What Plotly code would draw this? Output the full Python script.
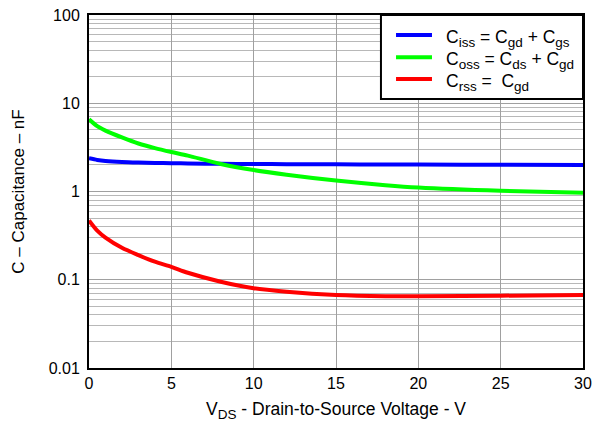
import plotly.graph_objects as go

vds = [0, 0.5, 1, 2, 3, 4, 5, 6, 8, 10, 12, 15, 18, 20, 25, 30]
ciss = [2.38, 2.28, 2.22, 2.16, 2.13, 2.11, 2.09, 2.08, 2.06, 2.05, 2.04, 2.03, 2.02, 2.02, 2.01, 2.0]
coss = [6.6, 5.5, 4.9, 4.1, 3.5, 3.1, 2.8, 2.55, 2.05, 1.75, 1.55, 1.33, 1.18, 1.11, 1.02, 0.97]
crss = [0.47, 0.36, 0.30, 0.23, 0.19, 0.16, 0.14, 0.12, 0.095, 0.08, 0.073, 0.067, 0.065, 0.065, 0.066, 0.067]

SUB = '<sub><span style="font-size:13.5px">{}</span></sub>'
names = ["C" + SUB.format("iss") + " = C" + SUB.format("gd") + " + C" + SUB.format("gs"),
         "C" + SUB.format("oss") + " = C" + SUB.format("ds") + " + C" + SUB.format("gd"),
         "C" + SUB.format("rss") + " =  C" + SUB.format("gd")]
colors = ["#0000ff", "#00ff00", "#ff0000"]

y_ticks = [0.01, 0.1, 1, 10, 100]
y_ticktext = ["0.01", "0.1", "1", "10", "100"]
x_ticks = [0, 5, 10, 15, 20, 25, 30]

minor_vals = [m * 10.0 ** e for e in range(-2, 2) for m in range(2, 10)]

fig = go.Figure()
for ys, nm, c in zip([ciss, coss, crss], names, colors):
    fig.add_trace(go.Scatter(x=vds, y=ys, mode="lines", name=nm, showlegend=False,
                             line=dict(color=c, width=4, shape="spline", smoothing=0.8)))

# manual legend box (paper coordinates)
fig.add_shape(type="rect", xref="paper", yref="paper", x0=0.591, x1=1.0, y0=0.762, y1=1.0,
              line=dict(color="black", width=2), fillcolor="white", layer="above")
leg_y = [0.9433, 0.880, 0.8187]
for nm, c, ly in zip(names, colors, leg_y):
    fig.add_shape(type="line", xref="paper", yref="paper", x0=0.6215, x1=0.6943, y0=ly, y1=ly,
                  line=dict(color=c, width=4), layer="above")
    fig.add_annotation(xref="paper", yref="paper", x=0.7186, y=ly - 0.009, text=nm, showarrow=False,
                       xanchor="left", yanchor="middle", font=dict(size=17.5), align="left")

fig.update_layout(
    width=607, height=424,
    margin=dict(l=89, r=24, t=15, b=56, autoexpand=False),
    paper_bgcolor="white", plot_bgcolor="white",
    font=dict(family="Liberation Sans, Arial, sans-serif", size=16, color="black"),
    showlegend=False,
)
fig.update_xaxes(range=[0, 30], tickvals=x_ticks, showgrid=True, gridcolor="#a0a0a0", gridwidth=1,
                 showline=True, linecolor="black", linewidth=2, mirror=True, ticks="",
                 zeroline=False, automargin=False,
                 title=dict(text="V" + SUB.format("DS") + " - Drain-to-Source Voltage - V",
                            font=dict(size=17.5), standoff=12))
fig.update_yaxes(type="log", range=[-2, 2], tickvals=y_ticks, ticktext=y_ticktext,
                 showgrid=True, gridcolor="#a0a0a0", gridwidth=1, automargin=False,
                 ticklabelstandoff=4,
                 minor=dict(tickvals=minor_vals, showgrid=True, gridcolor="#b8b8b8", gridwidth=1, ticks=""),
                 showline=True, linecolor="black", linewidth=2, mirror=True, ticks="",
                 title=dict(text="C – Capacitance – nF", font=dict(size=17), standoff=20))

fig.write_html("out.html", config={"displayModeBar": False},
               post_script="document.body.style.margin='0px';")
